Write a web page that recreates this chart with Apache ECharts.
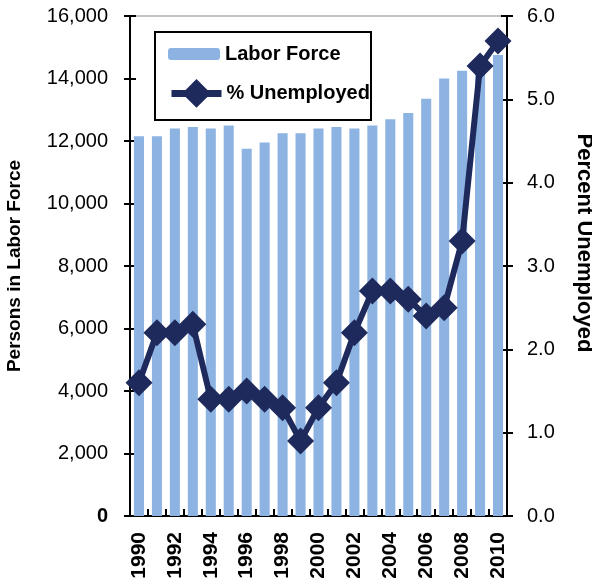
<!DOCTYPE html>
<html>
<head>
<meta charset="utf-8">
<script src="https://cdn.jsdelivr.net/npm/echarts@6/dist/echarts.min.js"></script>
<style>
  html, body { margin: 0; padding: 0; background: #fff; }
  #chart { width: 592px; height: 584px; }
</style>
</head>
<body>
<div id="chart"></div>
<script>
// data
var years = ['1990', '1991', '1992', '1993', '1994', '1995', '1996', '1997', '1998', '1999', '2000',
  '2001', '2002', '2003', '2004', '2005', '2006', '2007', '2008', '2009', '2010']
var laborForce = [12150, 12150, 12400, 12450, 12400, 12500, 11750, 11950, 12250, 12250, 12400,
  12450, 12400, 12500, 12700, 12900, 13350, 14000, 14250, 14500, 14750]
var pctUnemployed = [1.6, 2.2, 2.2, 2.3, 1.4, 1.4, 1.5, 1.4, 1.3, 0.9, 1.3,
  1.6, 2.2, 2.7, 2.7, 2.6, 2.4, 2.5, 3.3, 5.4, 5.7]
var leftTicks = { min: 0, max: 16000, interval: 2000 }
var rightTicks = { min: 0, max: 6, interval: 1 }

var font = "'Liberation Sans', Arial, sans-serif"
var barColor = '#8DB3E2'
var lineColor = '#1F2A5C'

var chart = echarts.init(document.getElementById('chart'))

function tickOnly(extra) {
  // second axis drawn on top of the first one just for the inner half of the ticks
  return Object.assign({
    axisLine: { show: false },
    axisTick: { show: true, inside: true, length: 6, lineStyle: { color: '#000', width: 2 } },
    axisLabel: { show: false },
    splitLine: { show: false }
  }, extra)
}

chart.setOption({
  animation: false,
  textStyle: { fontFamily: font },
  grid: {
    left: 130, right: 85, top: 16, bottom: 68,
    outerBoundsMode: 'none',
    containLabel: false,
    show: true, borderColor: '#888', borderWidth: 1
  },
  graphic: [{
    type: 'rect',
    z: 3,
    shape: { x: 155, y: 32, width: 216, height: 88 },
    style: { fill: '#fff', stroke: '#000', lineWidth: 2 }
  }],
  legend: [
    {
      data: ['Labor Force'],
      left: 168, top: 44, padding: 0, z: 10,
      itemWidth: 52, itemHeight: 12,
      selectedMode: false,
      textStyle: { fontFamily: font, fontSize: 20, fontWeight: 'bold', color: '#000' }
    },
    {
      data: ['% Unemployed'],
      left: 168, top: 79, padding: 0, z: 10,
      itemWidth: 50, itemHeight: 36,
      selectedMode: false,
      lineStyle: { width: 7, color: lineColor },
      textStyle: { fontFamily: font, fontSize: 20, fontWeight: 'bold', color: '#000' }
    }
  ],
  xAxis: [
    {
      type: 'category',
      data: years,
      axisLine: { lineStyle: { color: '#000', width: 2 } },
      axisTick: { interval: 0, length: 6, lineStyle: { color: '#000', width: 2 } },
      axisLabel: {
        interval: 1,
        rotate: 90,
        margin: 16,
        color: '#000',
        fontFamily: font,
        fontSize: 21,
        fontWeight: 'bold'
      },
      splitLine: { show: false }
    },
    tickOnly({ type: 'category', data: years, position: 'bottom', axisTick: { show: true, inside: true, interval: 0, length: 7, lineStyle: { color: '#000', width: 2 } } })
  ],
  yAxis: [
    {
      type: 'value',
      min: leftTicks.min, max: leftTicks.max, interval: leftTicks.interval,
      position: 'left',
      name: 'Persons in Labor Force',
      nameLocation: 'middle',
      nameRotate: 90,
      nameGap: 106,
      nameTextStyle: { fontFamily: font, fontSize: 19, fontWeight: 'bold', color: '#000' },
      axisLine: { show: true, lineStyle: { color: '#000', width: 2 } },
      axisTick: { show: true, length: 6, lineStyle: { color: '#000', width: 2 } },
      axisLabel: {
        margin: 22,
        color: '#000',
        fontFamily: font,
        fontSize: 20,
        formatter: function (v) {
          return v === 0 ? '{b|0}' : v.toLocaleString('en-US')
        },
        rich: { b: { fontWeight: 'bold', fontSize: 20, fontFamily: font, color: '#000' } }
      },
      splitLine: { show: false }
    },
    {
      type: 'value',
      min: rightTicks.min, max: rightTicks.max, interval: rightTicks.interval,
      position: 'right',
      name: 'Percent Unemployed',
      nameLocation: 'middle',
      nameRotate: -90,
      nameGap: 66,
      nameTextStyle: { fontFamily: font, fontSize: 22, fontWeight: 'bold', color: '#000', padding: [0, 46, 0, 0] },
      axisLine: { show: true, lineStyle: { color: '#000', width: 2 } },
      axisTick: { show: true, length: 6, lineStyle: { color: '#000', width: 2 } },
      axisLabel: {
        margin: 20,
        color: '#000',
        fontFamily: font,
        fontSize: 20,
        formatter: function (v) { return v.toFixed(1) }
      },
      splitLine: { show: false }
    },
    tickOnly({ type: 'value', min: leftTicks.min, max: leftTicks.max, interval: leftTicks.interval, position: 'left' }),
    tickOnly({ type: 'value', min: rightTicks.min, max: rightTicks.max, interval: rightTicks.interval, position: 'right' })
  ],
  series: [
    {
      name: 'Labor Force',
      type: 'bar',
      data: laborForce,
      barWidth: '56%',
      itemStyle: { color: barColor },
      z: 2
    },
    {
      name: '% Unemployed',
      type: 'line',
      yAxisIndex: 1,
      data: pctUnemployed,
      symbol: 'diamond',
      symbolSize: 27,
      showAllSymbol: true,
      lineStyle: { color: lineColor, width: 6 },
      itemStyle: { color: lineColor },
      z: 5
    }
  ]
})
</script>
</body>
</html>
